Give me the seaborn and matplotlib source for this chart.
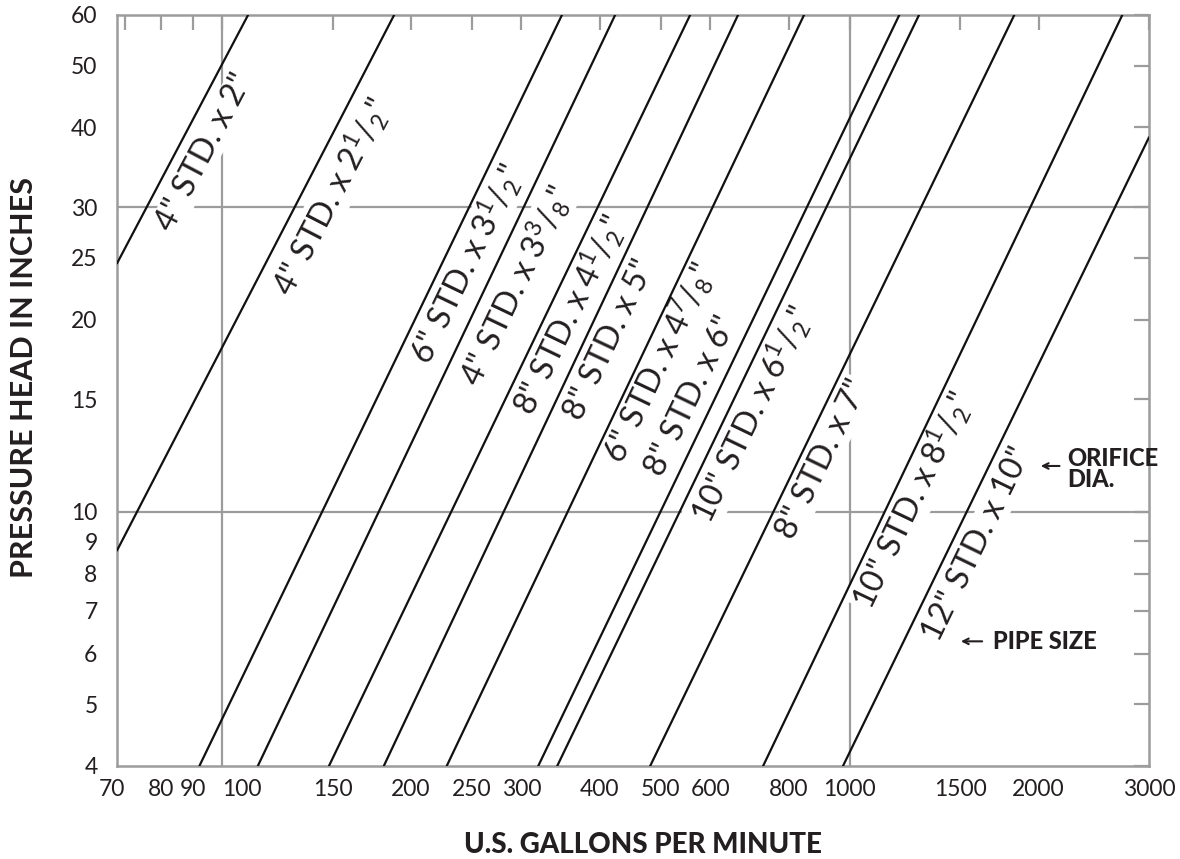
import numpy as np
import pandas as pd
import matplotlib.pyplot as plt
import seaborn as sns

# Orifice lines: each drawn between two points (gpm, inches)
line_labels = [
    '4" STD. x 2"',
    '4" STD. x 2$^1$/$_2$"',
    '6" STD. x 3$^1$/$_2$"',
    '4" STD. x 3$^3$/$_8$"',
    '8" STD. x 4$^1$/$_2$"',
    '8" STD. x 5"',
    '6" STD. x 4$^7$/$_8$"',
    '8" STD. x 6"',
    '10" STD. x 6$^1$/$_2$"',
    '8" STD. x 7"',
    '10" STD. x 8$^1$/$_2$"',
    '12" STD. x 10"',
]
q_start = [68, 68, 92, 114, 148, 181, 228, 319, 342, 481, 728, 976]
h_start = [24.5, 8.7, 4, 4, 4, 4, 4, 4, 4, 4, 4, 4]
q_end = [110, 188, 348, 423, 557, 664, 846, 1200, 1290, 1830, 2720, 3000]
h_end = [60, 60, 60, 60, 60, 60, 60, 60, 60, 60, 60, 38.6]

# head (inches) at which each label sits, and its side shift from the line (px)
label_head = [36.6, 31.1, 24.4, 22.6, 20.3, 18.6, 17.1, 15.2, 14.2, 12.1, 10.4, 8.9]
label_shift = [29, 32, 25, 30, 24, 25, 21, -25, 25, 24, 23, 26]

x_ticks = [70, 80, 90, 100, 150, 200, 250, 300, 400, 500, 600, 800, 1000, 1500, 2000, 3000]
y_ticks = [4, 5, 6, 7, 8, 9, 10, 15, 20, 25, 30, 40, 50, 60]
x_grid = [100, 1000]
y_grid = [10, 30]

rows = []
for i in range(len(line_labels)):
    rows.append({"line": i, "gpm": q_start[i], "head": h_start[i]})
    rows.append({"line": i, "gpm": q_end[i], "head": h_end[i]})
df = pd.DataFrame(rows)

sns.set_style("white")
plt.rcParams['font.family'] = ['Lato', 'DejaVu Sans']
plt.rcParams['mathtext.fontset'] = 'custom'
plt.rcParams['mathtext.rm'] = 'Lato'
plt.rcParams['mathtext.it'] = 'Lato:italic'
plt.rcParams['mathtext.bf'] = 'Lato:bold'
plt.rcParams['mathtext.default'] = 'rm'

grey = "#9c9c9c"
ink = "#231f20"

fig = plt.figure(figsize=(11.8, 8.59), dpi=100)
ax = fig.add_axes([117 / 1180, 93 / 859, 1032 / 1180, 751 / 859])
ax.set_xscale("log")
ax.set_yscale("log")

sns.lineplot(data=df, x="gpm", y="head", units="line", estimator=None, sort=False,
             color="#111111", linewidth=1.6, legend=False, ax=ax, zorder=3)

ax.set_xlim(68, 3000)
ax.set_ylim(4, 60)

for v in x_grid:
    ax.axvline(v, color=grey, lw=1.6, zorder=1)
for v in y_grid:
    ax.axhline(v, color=grey, lw=1.6, zorder=1)

ax.minorticks_off()
ax.set_xticks(x_ticks)
ax.set_xticklabels([str(t) for t in x_ticks])
ax.set_yticks(y_ticks)
ax.set_yticklabels([str(t) for t in y_ticks])
ax.tick_params(axis="both", which="major", direction="in", length=11, width=1.6,
               color=grey, labelsize=16.5, labelcolor=ink, top=True, right=True)
ax.tick_params(axis="x", pad=9)
ax.tick_params(axis="y", pad=14)
xl = ax.get_xticklabels()
xl[0].set_horizontalalignment("right")
xl[3].set_horizontalalignment("left")
for s in ax.spines.values():
    s.set_color(grey)
    s.set_linewidth(1.8)
ax.set_xlabel("")
ax.set_ylabel("")

# labels along each line, just beside it
to_axes = ax.transAxes.inverted()
for i, lab in enumerate(line_labels):
    p1 = ax.transData.transform((q_start[i], h_start[i]))
    p2 = ax.transData.transform((q_end[i], h_end[i]))
    ang = np.degrees(np.arctan2(p2[1] - p1[1], p2[0] - p1[0]))
    t = (np.log10(label_head[i]) - np.log10(h_start[i])) / (np.log10(h_end[i]) - np.log10(h_start[i]))
    lq = 10 ** (np.log10(q_start[i]) + t * (np.log10(q_end[i]) - np.log10(q_start[i])))
    px, py = ax.transData.transform((lq, label_head[i]))
    fx, fy = to_axes.transform((px + label_shift[i], py))
    ax.text(fx, fy, lab, transform=ax.transAxes,
            rotation=ang, rotation_mode="anchor", ha="center", va="center",
            fontsize=23.5, color=ink, zorder=2,
            bbox=dict(facecolor="white", edgecolor="none", pad=1))

# callouts
ax.annotate("", xy=(0.8924, 0.3995), xytext=(0.916, 0.3995), xycoords="axes fraction",
            arrowprops=dict(arrowstyle="->", color=ink, lw=1.5))
ax.text(0.9205, 0.3955, "ORIFICE\nDIA.", transform=ax.transAxes, ha="left", va="center",
        fontsize=17, fontweight="black", color=ink, linespacing=0.85)
ax.annotate("", xy=(0.815, 0.166), xytext=(0.841, 0.166), xycoords="axes fraction",
            arrowprops=dict(arrowstyle="->", color=ink, lw=1.5))
ax.text(0.849, 0.166, "PIPE SIZE", transform=ax.transAxes, ha="left", va="center",
        fontsize=17, fontweight="black", color=ink)

fig.text(0.545, 0.0163, "U.S. GALLONS PER MINUTE", ha="center", va="center",
         fontsize=20, fontweight="black", color=ink)
fig.text(0.02, 0.56, "PRESSURE HEAD IN INCHES", ha="center", va="center", rotation=90,
         fontsize=22, fontweight="bold", color=ink,
         family=["Liberation Sans Narrow", "Lato"])

fig.savefig("out.png", dpi=100)
